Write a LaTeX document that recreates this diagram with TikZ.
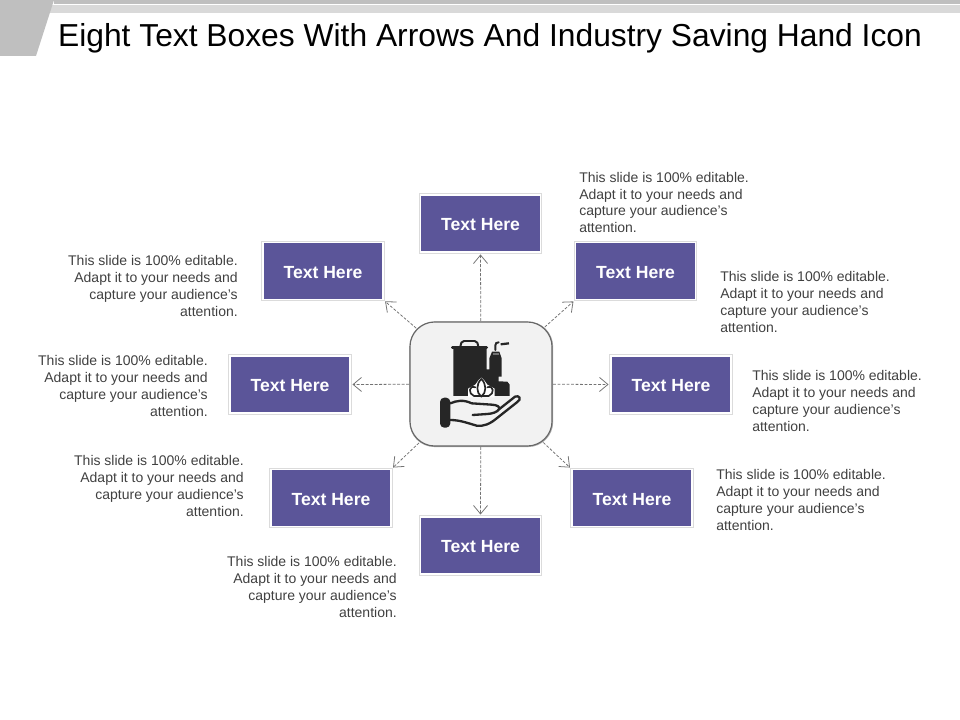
\documentclass[tikz,border=0pt]{standalone}
\usepackage{fontspec}
\setmainfont{Liberation Sans}
\usepackage{xcolor}
\usetikzlibrary{arrows.meta,backgrounds,shadows}
\definecolor{boxfill}{HTML}{5B5599}
\definecolor{bodytext}{HTML}{404040}
\definecolor{inkdark}{HTML}{262626}
\tikzset{
  textbox/.style={preaction={draw=black!14, line width=2.3pt}, draw=white, line width=1.1pt, fill=boxfill, text=white, minimum width=3cm, minimum height=1.425cm, inner sep=0pt,
    text height=10.5pt, font=\fontsize{12.5}{15}\selectfont\bfseries},
  blurb/.style={text=bodytext, inner sep=0pt, font=\fontsize{9.95}{11.9}\selectfont},
  flow/.style={draw=black!55, dashed, line width=0.55pt, dash pattern=on 2pt off 1.2pt, -{Straight Barb[length=6pt,width=10pt,line width=0.55pt]}, shorten >=1.2pt},
}
\newcommand{\blurbtext}{This slide is 100\% editable.\\Adapt it to your needs and\\capture your audience's\\attention.}
\begin{document}
\begin{tikzpicture}[x=0.025cm,y=-0.025cm]
    \useasboundingbox (0,0) rectangle (960,720);

    % Header
    \fill[black!15] (50,5.5) rectangle (960,13);
    \fill[black!25] (54,0) rectangle (960,4);
    \fill[black!25] (0,0) -- (54,0) -- (36,56) -- (0,56) -- cycle;
    \node[anchor=center, inner sep=0pt, font=\fontsize{22.6}{27}\selectfont] (title) at (490,38) {Eight Text Boxes With Arrows And Industry Saving Hand Icon};

    % Nodes
    \node[draw=black!60, line width=0.8pt, fill=black!5, rounded corners=0.62cm, minimum width=3.55cm, minimum height=3.1cm,
      drop shadow={shadow xshift=0.2pt, shadow yshift=-0.2pt, shadow scale=1.012, opacity=0.55, fill=black!60}] (hub) at (481,384) {};

    \node[textbox] (top) at (480.5,223.5) {Text Here};
    \node[textbox] (upright) at (635.5,271) {Text Here};
    \node[textbox] (right) at (671,384.5) {Text Here};
    \node[textbox] (lowright) at (632,498) {Text Here};
    \node[textbox] (bottom) at (480.5,545.5) {Text Here};
    \node[textbox] (lowleft) at (331,498) {Text Here};
    \node[textbox] (left) at (290,384.5) {Text Here};
    \node[textbox] (upleft) at (323,271) {Text Here};

    \node[blurb, anchor=west, align=left] (topnote) at (579,202.5) {\blurbtext};
    \node[blurb, anchor=west, align=left] (uprightnote) at (720,302) {\blurbtext};
    \node[blurb, anchor=west, align=left] (rightnote) at (752,401) {\blurbtext};
    \node[blurb, anchor=west, align=left] (lowrightnote) at (716,500) {\blurbtext};
    \node[blurb, anchor=east, align=right] (bottomnote) at (397,587) {\blurbtext};
    \node[blurb, anchor=east, align=right] (lowleftnote) at (244,486) {\blurbtext};
    \node[blurb, anchor=east, align=right] (leftnote) at (208,386) {\blurbtext};
    \node[blurb, anchor=east, align=right] (upleftnote) at (238,286) {\blurbtext};

    % Arrows, behind the nodes
    \begin{scope}[on background layer]
      \draw[flow] (hub.center) -- (top.south);
      \draw[flow] (hub.center) -- (upright.south west);
      \draw[flow] (hub.center) -- (right.west);
      \draw[flow] (hub.center) -- (lowright.north west);
      \draw[flow] (hub.center) -- (bottom.north);
      \draw[flow] (hub.center) -- (lowleft.north east);
      \draw[flow] (hub.center) -- (left.east);
      \draw[flow] (hub.center) -- (upleft.south east);
    \end{scope}

    % Icon
    \begin{scope}[shift={(400,310)},x=0.00833cm,y=-0.00833cm]
      \fill[inkdark] (160,116) -- (260,116) -- (260,178) -- (268,178) -- (268,145) -- (276,125) -- (298,125) -- (305,145) -- (305,200) -- (296,200) -- (296,214) -- (322,215) -- (329,224) -- (329,258) -- (160,258) -- cycle;
      \fill[black!55] (279,129) rectangle (296,135);
      \draw[inkdark, line width=1.9pt, line cap=round, line join=round] (157,113) -- (260,113);
      \draw[inkdark, line width=1.4pt, line join=round] (181,110) -- (184,98) .. controls (186,94) and (188,93) .. (192,93) -- (224,93) .. controls (228,93) and (230,94) .. (232,98) -- (235,110);
      \draw[inkdark, line width=1.4pt, line cap=round] (286,120) -- (286,106) .. controls (286,100) and (290,97) .. (296,97);
      \draw[inkdark, line width=1.6pt] (302,103) -- (327,100);
      % leaf
      \fill[white] (204,262) -- (204,236) -- (226,224) -- (236,210) -- (244,203) -- (252,210) -- (262,224) -- (284,236) -- (284,262) -- cycle;
      \draw[inkdark, line width=1.2pt, line join=round] (244,207) .. controls (228,222) and (228,248) .. (244,260) .. controls (260,248) and (260,222) .. (244,207) -- cycle;
      \draw[inkdark, line width=1.2pt, line cap=round] (226,232) .. controls (206,224) and (204,252) .. (222,258) -- (266,258) .. controls (284,252) and (282,224) .. (262,232);
      % hand
      \fill[inkdark, rounded corners=3pt] (120,263) rectangle (151,353);
      \draw[inkdark, line width=1.65pt, line cap=round, line join=round] (151,280) .. controls (170,272) and (190,268) .. (215,280) -- (275,284) .. controls (292,285) and (300,290) .. (297,298) -- (345,260) .. controls (358,254) and (366,268) .. (352,276) -- (290,325) .. controls (270,342) and (250,350) .. (230,347) .. controls (205,340) and (180,330) .. (151,330);
      \draw[inkdark, line width=1.65pt, line cap=round] (218,315) -- (262,312) .. controls (278,311) and (292,306) .. (297,298);
    \end{scope}
\end{tikzpicture}
\end{document}
